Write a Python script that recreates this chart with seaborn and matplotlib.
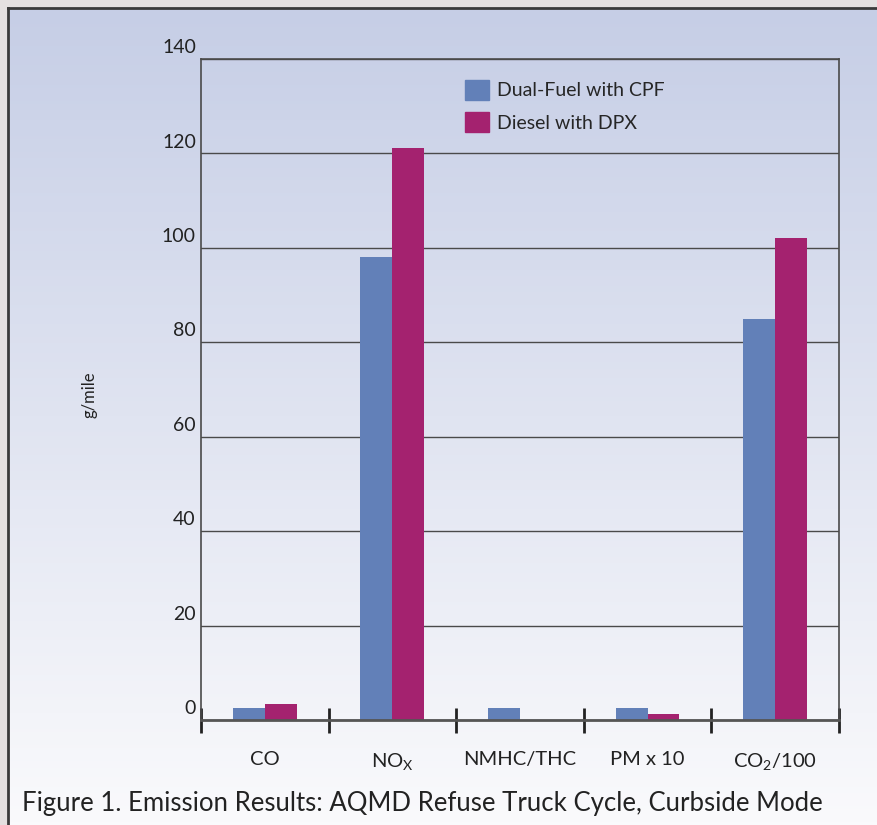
import numpy as np
import pandas as pd
import matplotlib
matplotlib.use("Agg")
import matplotlib.pyplot as plt
import seaborn as sns

# data
categories = ["CO", "NO$_\\mathregular{X}$", "NMHC/THC", "PM x 10", "CO$_\\mathregular{2}$/100"]
dual_fuel = [2.5, 98.0, 2.5, 2.5, 85.0]
diesel = [3.4, 121.2, 0.0, 1.3, 102.0]
series_names = ["Dual-Fuel with CPF", "Diesel with DPX"]
y_ticks = [0, 20, 40, 60, 80, 100, 120, 140]

df = pd.DataFrame({
    "category": categories * 2,
    "value": dual_fuel + diesel,
    "series": [series_names[0]] * 5 + [series_names[1]] * 5,
})

sns.set_style("white")
plt.rcParams["font.family"] = ["Lato", "DejaVu Sans"]
plt.rcParams["mathtext.default"] = "regular"

fig = plt.figure(figsize=(8.78, 8.25), dpi=100)
fig.patch.set_facecolor("#e4e0e0")

# panel with vertical gradient
bg = fig.add_axes([8 / 878, 0, 1 - 8 / 878, 1 - 8 / 825])
grad = np.linspace(0, 1, 256).reshape(-1, 1)
cmap = matplotlib.colors.LinearSegmentedColormap.from_list("bg", ["#c6cee6", "#fafafc"])
bg.imshow(grad, aspect="auto", cmap=cmap, extent=[0, 1, 0, 1], origin="upper")
bg.set_xticks([])
bg.set_yticks([])
for s in ["left", "top", "right"]:
    bg.spines[s].set_color("#3a3a3a")
    bg.spines[s].set_linewidth(2)
bg.spines["bottom"].set_visible(False)

ax = fig.add_axes([201 / 878, 105 / 825, 638 / 878, 661 / 825])
ax.patch.set_alpha(0)
sns.barplot(data=df, x="category", y="value", hue="series",
            palette=["#6280b8", "#a4226f"], width=0.5, gap=0,
            saturation=1, linewidth=0, edgecolor="none", ax=ax, legend=False)

ax.set_xlim(-0.5, 4.5)
ax.set_ylim(0, 140)
ax.set_yticks(y_ticks)
ax.set_yticklabels([])
for t in y_ticks:
    ax.axhline(t, color="#4a4a4a", lw=1, zorder=0)
    ax.text(-0.54, t + 0.6, str(t), ha="right", va="bottom", fontsize=14, color="#222222")
ax.tick_params(axis="y", length=0)

ax.set_xticks(np.arange(-0.5, 5, 1))
ax.set_xticklabels([])
ax.tick_params(axis="x", which="major", bottom=True, direction="inout", length=18, width=2, color="#222222")
ax.set_xticks(range(len(categories)), minor=True)
ax.set_xticklabels(categories, minor=True, fontsize=14.5, color="#222222")
ax.tick_params(axis="x", which="minor", bottom=True, length=0, pad=22)

for s in ["left", "top", "right", "bottom"]:
    ax.spines[s].set_visible(True)
    ax.spines[s].set_color("#4a4a4a")
    ax.spines[s].set_linewidth(1.2)
ax.spines["bottom"].set_linewidth(2)
ax.spines["bottom"].set_color("#555555")

ax.set_xlabel("")
ax.set_ylabel("")
fig.text(90 / 878, 1 - 395 / 825, "g/mile", rotation=90, ha="center", va="center", fontsize=12, color="#222222")

# legend
handles = [matplotlib.patches.Patch(color=c) for c in ["#6280b8", "#a4226f"]]
ax.legend(handles, series_names, loc="upper left", bbox_to_anchor=(0.387, 0.995),
          frameon=False, fontsize=14, handlelength=1.2, handleheight=1.2,
          handletextpad=0.45, labelspacing=0.65)

fig.text(22 / 878, 1 - 803 / 825, "Figure 1. Emission Results: AQMD Refuse Truck Cycle, Curbside Mode",
         ha="left", va="center", fontsize=18.5, color="#222222")

fig.savefig("out.png", dpi=100)
